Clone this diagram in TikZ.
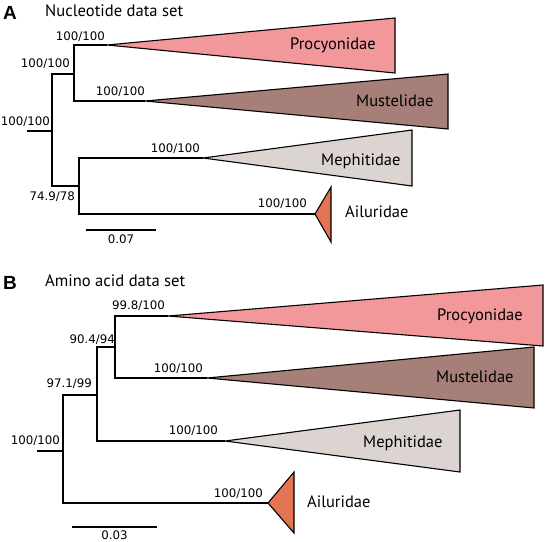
\documentclass[tikz,border=0pt]{standalone}
\usepackage{fontspec}
\setmainfont{PT Sans}
\newfontfamily\supfont{DejaVu Sans}
\newfontfamily\panelfont{Liberation Sans}
\usetikzlibrary{positioning,calc}

\definecolor{procy}{RGB}{242,152,155}
\definecolor{muste}{RGB}{166,128,120}
\definecolor{mephi}{RGB}{220,212,208}
\definecolor{ailur}{RGB}{228,117,82}

\begin{document}
\begin{tikzpicture}[
  x=1pt, y=-1pt,
  branch/.style={line width=1.4pt},
  clade/.style={draw, line width=1.1pt, line join=miter},
  sup/.style={font=\supfont\fontsize{11.8}{12}\selectfont, inner sep=0pt},
  taxon/.style={font=\fontsize{16.5}{18}\selectfont, inner sep=0pt, anchor=base west},
  panel/.style={font=\panelfont\bfseries\fontsize{19}{20}\selectfont, inner sep=0pt, anchor=base west},
  title/.style={font=\fontsize{16.6}{18}\selectfont, inner sep=0pt, anchor=base west}
]
\useasboundingbox (0,0) rectangle (546,541);

% panel A
\node[panel] (pA) at (3,19) {A};
\node[title] (tA) at (45,16) {Nucleotide data set};

\coordinate (a-root) at (27,131);
\coordinate (a-n0) at (52,131);
\coordinate (a-n1) at (74,74);
\coordinate (a-n2) at (79,186);
\coordinate (a-pro) at (107,45);
\coordinate (a-mus) at (145,101);
\coordinate (a-mep) at (203,158);
\coordinate (a-ail) at (315,214);

\filldraw[clade, fill=procy] (a-pro) -- (395,18) -- (395,73) -- cycle;
\filldraw[clade, fill=muste] (a-mus) -- (448,74) -- (448,129) -- cycle;
\filldraw[clade, fill=mephi] (a-mep) -- (412,130) -- (412,186) -- cycle;
\filldraw[clade, fill=ailur] (a-ail) -- (331,187) -- (331,242) -- cycle;

\draw[branch] (a-root) -- (a-n0);
\draw[branch] (a-n1) -| (a-n0) |- (a-n2);
\draw[branch] (a-pro) -| (a-n1) |- (a-mus);
\draw[branch] (a-mep) -| (a-n2) |- (a-ail);

\node[sup, above left=4pt and 2pt of a-n0] (s-a-n0) {100/100};
\node[sup, above left=5pt and 4pt of a-n1] (s-a-n1) {100/100};
\node[sup, below left=6pt and 4pt of a-n2] (s-a-n2) {74.9/78};
\node[sup, above left=3pt and 2pt of a-pro] (s-a-pro) {100/100};
\node[sup, above left=4pt and 0pt of a-mus] (s-a-mus) {100/100};
\node[sup, above left=4pt and 3pt of a-mep] (s-a-mep) {100/100};
\node[sup, above left=5pt and 8pt of a-ail] (s-a-ail) {100/100};

\node[taxon] (l-a-pro) at (290,49) {Procyonidae};
\node[taxon] (l-a-mus) at (356,106) {Mustelidae};
\node[taxon] (l-a-mep) at (321,165) {Mephitidae};
\node[taxon] (l-a-ail) at (345,217) {Ailuridae};

\coordinate (a-bar0) at (86,230);
\coordinate (a-bar1) at (156,230);
\draw[branch] (a-bar0) -- (a-bar1);
\node[sup, below=5pt of $(a-bar0)!0.5!(a-bar1)$] (s-a-bar) {0.07};

% panel B
\node[panel] (pB) at (3,289) {B};
\node[title] (tB) at (45,286) {Amino acid data set};

\coordinate (b-root) at (37,451);
\coordinate (b-n0) at (63,451);
\coordinate (b-n1) at (97,395);
\coordinate (b-n2) at (115,347);
\coordinate (b-pro) at (168,316);
\coordinate (b-mus) at (207,378);
\coordinate (b-mep) at (225,441);
\coordinate (b-ail) at (268,503);

\filldraw[clade, fill=procy] (b-pro) -- (543,285) -- (543,346) -- cycle;
\filldraw[clade, fill=muste] (b-mus) -- (534,347) -- (534,408) -- cycle;
\filldraw[clade, fill=mephi] (b-mep) -- (460,410) -- (460,472) -- cycle;
\filldraw[clade, fill=ailur] (b-ail) -- (294,472) -- (294,533) -- cycle;

\draw[branch] (b-root) -- (b-n0);
\draw[branch] (b-n1) -| (b-n0) |- (b-ail);
\draw[branch] (b-n2) -| (b-n1) |- (b-mep);
\draw[branch] (b-pro) -| (b-n2) |- (b-mus);

\node[sup, above left=5pt and 3pt of b-n0] (s-b-n0) {100/100};
\node[sup, above left=6pt and 5pt of b-n1] (s-b-n1) {97.1/99};
\node[sup, above left=2pt and 0pt of b-n2] (s-b-n2) {90.4/94};
\node[sup, above left=5pt and 3pt of b-pro] (s-b-pro) {99.8/100};
\node[sup, above left=4pt and 4pt of b-mus] (s-b-mus) {100/100};
\node[sup, above left=5pt and 7pt of b-mep] (s-b-mep) {100/100};
\node[sup, above left=4pt and 5pt of b-ail] (s-b-ail) {100/100};

\node[taxon] (l-b-pro) at (437,320) {Procyonidae};
\node[taxon] (l-b-mus) at (436,382) {Mustelidae};
\node[taxon] (l-b-mep) at (363,447) {Mephitidae};
\node[taxon] (l-b-ail) at (307,507) {Ailuridae};

\coordinate (b-bar0) at (72,527);
\coordinate (b-bar1) at (157,527);
\draw[branch] (b-bar0) -- (b-bar1);
\node[sup, below=3.5pt of $(b-bar0)!0.5!(b-bar1)$] (s-b-bar) {0.03};

\end{tikzpicture}
\end{document}
